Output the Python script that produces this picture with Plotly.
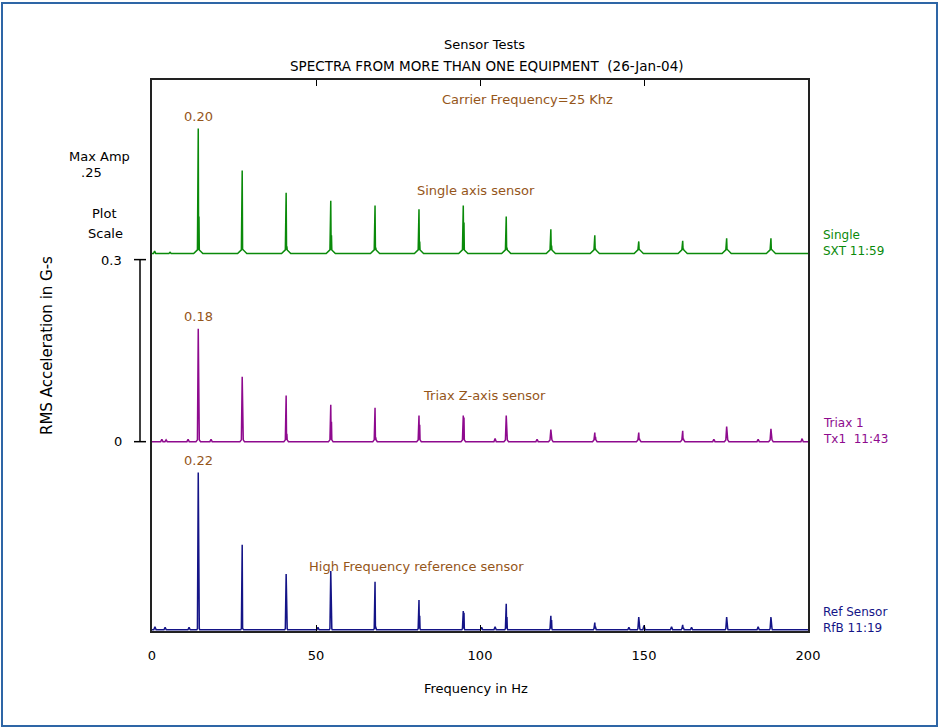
import plotly.graph_objects as go

# ---------------- data ----------------
peak_freqs = [14.1, 27.5, 40.9, 54.5, 68.0, 81.4, 94.9, 108.0, 121.6, 135.0, 148.4, 161.8, 175.2, 188.7]

single_main = [0.206, 0.137, 0.100, 0.087, 0.079, 0.073, 0.079, 0.061, 0.040, 0.030, 0.020, 0.021, 0.025, 0.025]
single_side = [0.061, 0.007, 0.012, 0.030, 0.010, 0.020, 0.051, 0.010, 0.013, 0.008, 0.007, 0.008, 0.007, 0.007]

triax_main = [0.186, 0.107, 0.076, 0.061, 0.056, 0.043, 0.043, 0.043, 0.020, 0.015, 0.015, 0.018, 0.025, 0.021]
triax_side = [0.046, 0.005, 0.013, 0.033, 0.007, 0.028, 0.040, 0.021, 0.016, 0.008, 0.005, 0.005, 0.005, 0.005]

ref_main = [0.259, 0.140, 0.092, 0.097, 0.079, 0.049, 0.031, 0.043, 0.023, 0.012, 0.021, 0.008, 0.021, 0.021]
ref_side = [0.064, 0.000, 0.010, 0.045, 0.005, 0.023, 0.028, 0.021, 0.016, 0.005, 0.007, 0.003, 0.005, 0.005]

single_minor_f = [0.8, 5.5]
single_minor_h = [0.004, 0.002]
triax_minor_f = [3.0, 4.3, 11.0, 18.0, 104.6, 117.4, 171.3, 184.8, 198.2]
triax_minor_h = [0.004, 0.003, 0.004, 0.004, 0.005, 0.004, 0.004, 0.004, 0.005]
ref_minor_f = [0.9, 4.0, 11.3, 50.6, 100.5, 104.6, 145.4, 150.0, 158.4, 164.5, 184.8]
ref_minor_h = [0.005, 0.004, 0.004, 0.004, 0.004, 0.005, 0.004, 0.007, 0.005, 0.004, 0.005]

offsets = {"single": 0.62, "triax": 0.31, "ref": 0.0}
peak_labels = ["0.20", "0.18", "0.22"]
x_ticks = [0, 50, 100, 150, 200]

GREEN = "#0a8a0a"
PURPLE = "#8e0a8e"
BLUE = "#141487"
BROWN = "#95561a"


def build(main, side, minor_f, minor_h, base, bump, w):
    pts = []
    for f, h in zip(minor_f, minor_h):
        pts.append((f, None, h, None))
    for f, h, s in zip(peak_freqs, main, side):
        pts.append((f, "p", h, s))
    pts.sort(key=lambda p: p[0])
    xs, ys = [0.0], [base]
    for f, kind, h, s in pts:
        if kind is None:
            xs += [f - 0.35, f, f + 0.35]
            ys += [base, base + h, base]
        else:
            xs += [f - w, f - 0.25, f, f + 0.12, f + 0.22, f + 0.32, f + w]
            ys += [base, base + bump, base + h, base + bump, base + s, base + bump, base]
    xs.append(200.0)
    ys.append(base)
    return xs, ys


fig = go.Figure()
for main, side, mf, mh, key, col, bump, w in [
    (single_main, single_side, single_minor_f, single_minor_h, "single", GREEN, 0.006, 1.4),
    (triax_main, triax_side, triax_minor_f, triax_minor_h, "triax", PURPLE, 0.003, 0.7),
    (ref_main, ref_side, ref_minor_f, ref_minor_h, "ref", BLUE, 0.002, 0.45),
]:
    xs, ys = build(main, side, mf, mh, offsets[key], bump, w)
    fig.add_trace(go.Scatter(x=xs, y=ys, mode="lines",
                             line=dict(color=col, width=1.5),
                             hoverinfo="skip", showlegend=False))

W, H = 941, 728
L, R, T, B = 152, 808, 80, 631
pw, ph = R - L, B - T


def px(x):
    return (x - L) / pw


def py(y):
    return (B - y) / ph


FONT = "DejaVu Sans, Liberation Sans, Arial, sans-serif"
FS = 13

ann = []


def text(x, y, s, color="black", size=FS, xanchor="center", angle=0):
    ann.append(dict(x=px(x), y=py(y), xref="paper", yref="paper", text=s,
                    showarrow=False, xanchor=xanchor, yanchor="middle", align="left",
                    textangle=angle, font=dict(family=FONT, size=size, color=color)))


# titles
text(484, 44, "Sensor Tests")
text(487, 66, "SPECTRA FROM MORE THAN ONE EQUIPMENT  (26-Jan-04)", size=13.5)
# left scale
text(99, 156, "Max Amp")
text(91, 172, ".25")
text(104, 213, "Plot")
text(105, 233, "Scale")
text(124, 260, "0.3", xanchor="right")
text(124, 441, "0", xanchor="right")
text(47, 346, "RMS Acceleration in G-s", size=15, angle=-90)
# brown annotations
text(527, 100, "Carrier Frequency=25 Khz", color=BROWN)
text(476, 190, "Single axis sensor", color=BROWN)
text(484, 395, "Triax Z-axis sensor", color=BROWN)
text(416, 566, "High Frequency reference sensor", color=BROWN)
# peak value labels
for lab, main, key in zip(peak_labels, [single_main, triax_main, ref_main], ["single", "triax", "ref"]):
    ann.append(dict(x=peak_freqs[0], y=offsets[key] + main[0], xref="x", yref="y",
                    text=lab, showarrow=False, yanchor="bottom", yshift=3,
                    font=dict(family=FONT, size=FS, color=BROWN)))
# right labels (two lines each)
text(821, 243, "Single<br>SXT 11:59", color=GREEN, size=12, xanchor="left")
text(821, 431, "Triax 1<br>Tx1  11:43", color=PURPLE, size=12, xanchor="left")
text(821, 620, "Ref Sensor<br>RfB 11:19", color=BLUE, size=12, xanchor="left")
# x title
text(476, 688, "Frequency in Hz")

shapes = [
    # outer border
    dict(type="rect", xref="paper", yref="paper", x0=px(2), x1=px(937), y0=py(726), y1=py(3),
         line=dict(color="#2e66a6", width=2)),
    # scale bar
    dict(type="line", xref="paper", yref="y", x0=px(140), x1=px(140), y0=offsets["triax"], y1=offsets["single"] - 0.01,
         line=dict(color="black", width=1.5)),
    dict(type="line", xref="paper", yref="y", x0=px(134), x1=px(146), y0=offsets["single"] - 0.01, y1=offsets["single"] - 0.01,
         line=dict(color="black", width=1.5)),
    dict(type="line", xref="paper", yref="y", x0=px(134), x1=px(146), y0=offsets["triax"], y1=offsets["triax"],
         line=dict(color="black", width=1.5)),
]

fig.update_layout(
    width=W, height=H,
    margin=dict(l=L, r=W - R, t=T, b=H - B),
    paper_bgcolor="white", plot_bgcolor="white",
    annotations=ann, shapes=shapes,
    xaxis=dict(range=[0, 200], tickvals=x_ticks, ticks="inside", ticklen=6, tickcolor="black",
               ticklabelstandoff=12,
               showline=True, linecolor="#222", linewidth=1.5, mirror="allticks",
               showgrid=False, zeroline=False,
               tickfont=dict(family=FONT, size=FS, color="black")),
    yaxis=dict(range=[-0.002, 0.906], showticklabels=False, ticks="",
               showline=True, linecolor="#222", linewidth=1.5, mirror=True,
               showgrid=False, zeroline=False),
    font=dict(family=FONT),
)

fig.write_html("out.html")
